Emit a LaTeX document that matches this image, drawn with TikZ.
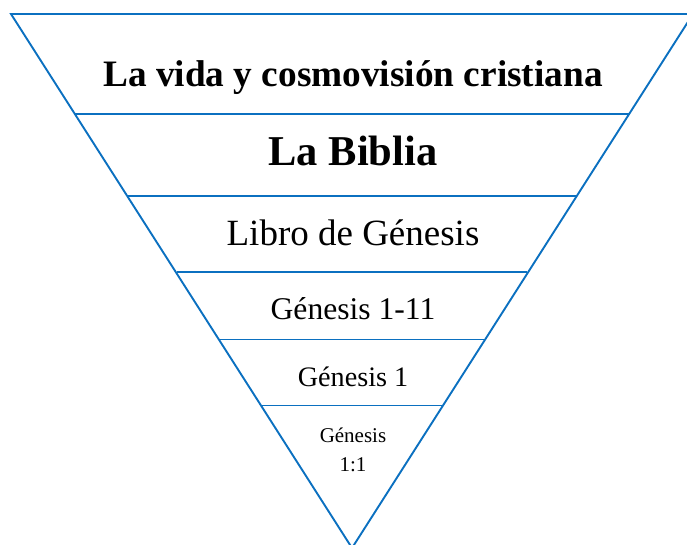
\documentclass[tikz,border=0pt]{standalone}
\usepackage{fontspec}
\setmainfont{Liberation Serif}
\definecolor{lineblue}{HTML}{0B70C0}
\begin{document}
\begin{tikzpicture}[x=1pt,y=-1pt,
  edge/.style={draw=lineblue,line width=1.9pt},
  lbl/.style={anchor=base,inner sep=0pt,text=black}]
\useasboundingbox (0,0) rectangle (687,545);
\clip (0,0) rectangle (687,545);
\coordinate (tl) at (11,14);
\coordinate (tr) at (693,14);
\coordinate (apex) at (352,548);
\draw[edge,line join=miter] (apex) -- (tl) -- (tr) -- cycle;
\coordinate (a1) at (75.2,114);   \coordinate (b1) at (628.8,114);
\coordinate (a2) at (127.8,196);  \coordinate (b2) at (576.2,196);
\coordinate (a3) at (176.6,272);  \coordinate (b3) at (527.4,272);
\coordinate (a4) at (220.0,339.5);\coordinate (b4) at (484.0,339.5);
\coordinate (a5) at (262.3,405.5);\coordinate (b5) at (441.7,405.5);
\draw[edge] (a1) -- (b1);
\draw[edge] (a2) -- (b2);
\draw[edge] (a3) -- (b3);
\draw[edge] (a4) -- (b4);
\draw[edge] (a5) -- (b5);
\node[lbl] (t1) at (353,87) {\fontsize{37.3}{40}\selectfont\bfseries La vida y cosmovisión cristiana};
\node[lbl] (t2) at (353,166) {\fontsize{42.5}{46}\selectfont\bfseries La Biblia};
\node[lbl] (t3) at (353,245) {\fontsize{37}{40}\selectfont Libro de Génesis};
\node[lbl] (t4) at (353,319) {\fontsize{31.6}{34}\selectfont Génesis 1-11};
\node[lbl] (t5) at (353,386) {\fontsize{28.2}{30}\selectfont Génesis 1};
\node[lbl] (t6) at (353,442) {\fontsize{21}{24}\selectfont Génesis};
\node[lbl] (t7) at (353,471) {\fontsize{21}{24}\selectfont 1:1};
\end{tikzpicture}
\end{document}
